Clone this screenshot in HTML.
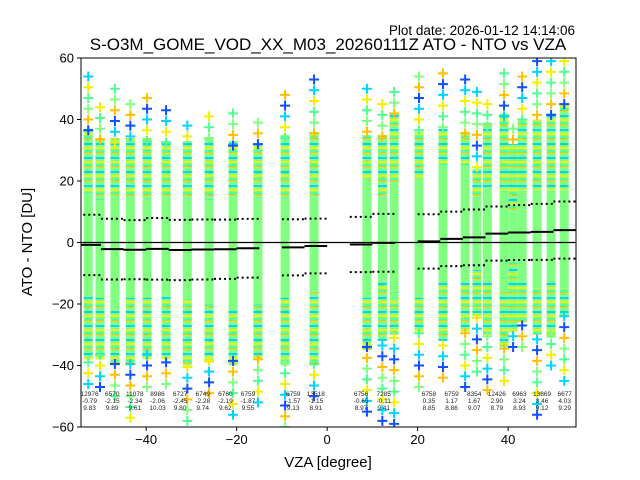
<!DOCTYPE html>
<html><head><meta charset="utf-8">
<style>
body{margin:0;background:#fff;}
svg{display:block;font-family:"Liberation Sans","DejaVu Sans",sans-serif;}
</style></head>
<body>
<svg id="chart" width="640" height="480" viewBox="0 0 640 480" xmlns="http://www.w3.org/2000/svg">
<defs>
<pattern id="mix" patternUnits="userSpaceOnUse" width="20" height="14">
<rect x="0" y="0" width="20" height="14" fill="#80ff80"/>
<rect x="0" y="3" width="20" height="2" fill="#00d4ff"/>
<rect x="0" y="7" width="20" height="2" fill="#f0f000"/>
<rect x="0" y="10" width="20" height="2" fill="#50ffa0"/>
<rect x="0" y="12" width="20" height="1" fill="#ffc000"/>
</pattern>
<clipPath id="plotclip"><rect x="81" y="58" width="495" height="369"/></clipPath>
</defs>
<rect x="0" y="0" width="640" height="480" fill="#fff"/>
<text x="575" y="35" font-size="13.5" text-anchor="end">Plot date: 2026-01-12 14:14:06</text>
<text x="328" y="50" font-size="17" text-anchor="middle">S-O3M_GOME_VOD_XX_M03_20260111Z ATO - NTO vs VZA</text>
<g id="plot" clip-path="url(#plotclip)"></g>
<g id="axes"></g>
<text x="328" y="467" font-size="15" text-anchor="middle">VZA [degree]</text>
<text x="32" y="242" font-size="15" text-anchor="middle" transform="rotate(-90 32 242)">ATO - NTO [DU]</text>
</svg>
<script>
// column data (degrees / DU)
const colX    = [-52.8,-50.2,-46.9,-43.5,-39.8,-35.6,-30.9,-26.1,-20.8,-15.3,-9.3,-2.9, 8.8,12.2,14.8,20.3,25.6,30.5,33.1,35.4,39.1,41.1,43.1,46.4,49.5,52.4];
const colTop  = [54,44,50,45,47,43,38,41,42,39,48,53, 50,45,49,54,55,53,49,45,55,37,54,59,59,59];
const colDTop = [37,34,34,34,34,33,33,34,33,32,35,36, 35,35,42,36,37,36,24,39,42,32,40,40,42,45];
const colGTop = [16,14,15,15,15,15,15,14,15,15,15,15, 21,15,19,21,25,25,15,18,17,10,17,17,17,17];
const colGBot = [-17,-18,-22,-18,-18,-17,-19,-20,-21,-20,-18,-16, -18,-12,-19,-18,-13,-12,-9,-12,-16,-6,-13,-15,-12,-15];
const colDBot = [-38,-38,-40,-40,-38,-38,-40,-39,-40,-38,-40,-40, -35,-32,-30,-29,-32,-29,-24,-30,-34,-29,-26,-30,-31,-24];
const colBot  = [-46,-47,-50,-57,-47,-46,-58,-49,-56,-52,-60,-50, -55,-58,-59,-47,-44,-47,-42,-48,-45,-34,-34,-56,-40,-45];
// bin statistics
const binLo   = [-55,-50,-45,-40,-35,-30,-25,-20,-10,-5, 5,10,20,25,30,35,40,45,50];
const binHi   = [-50,-45,-40,-35,-30,-25,-20,-15,-5,0, 10,15,25,30,35,40,45,50,55];
const binN    = [12976,6570,11078,8986,6727,6749,6760,6759,6759,13518, 6756,7285,6758,6759,8354,12426,6963,13869,6677];
const binMean = [-0.79,-2.15,-2.34,-2.06,-2.45,-2.28,-2.19,-1.87,-1.57,-1.15, -0.65,-0.11,0.35,1.17,1.67,2.90,3.24,3.46,4.03];
const binStd  = [9.83,9.89,9.61,10.03,9.80,9.74,9.62,9.55,9.13,8.91, 8.97,9.41,8.85,8.86,9.07,8.79,8.93,9.12,9.29];
const xTicks = [-40,-20,0,20,40];
const yTicks = [-60,-40,-20,0,20,40,60];

const NS="http://www.w3.org/2000/svg";
const X0=81,X1=576,Y0=427,Y1=58;
const xMin=-54.4,xMax=55,yMin=-60,yMax=60;
const xs=v=>X0+(v-xMin)/(xMax-xMin)*(X1-X0);
const ys=v=>Y0-(v-yMin)/(yMax-yMin)*(Y0-Y1);
function mk(tag,attrs,parent){const e=document.createElementNS(NS,tag);for(const k in attrs)e.setAttribute(k,attrs[k]);parent.appendChild(e);return e;}
const plot=document.getElementById('plot');
const axes=document.getElementById('axes');
const mcol=['#00d4ff','#f0f000','#50ff90','#80ff80','#ffc000','#1050ff'];
const W=9;
function plus(cx,cy,c){
  const p=mk('path',{d:`M${cx-5},${cy}H${cx+5}M${cx},${cy-5}V${cy+5}`,stroke:c,'stroke-width':2,fill:'none'},plot);
  
  
}
colX.forEach((v,i)=>{
  const cx=xs(v);
  const a=mk('rect',{x:cx-W/2,y:ys(colDTop[i]),width:W,height:ys(colGTop[i])-ys(colDTop[i]),fill:'url(#mix)'},plot);
  
  
  const g=mk('rect',{x:cx-W/2,y:ys(colGTop[i]),width:W,height:ys(colGBot[i])-ys(colGTop[i]),fill:'#80ff80'},plot);
  
  
  const b=mk('rect',{x:cx-W/2,y:ys(colGBot[i]),width:W,height:ys(colDBot[i])-ys(colGBot[i]),fill:'url(#mix)'},plot);
  
  
  let k=i;
  for(let y=colTop[i];y>colDTop[i]-2;y-=3.5){plus(cx,ys(y),mcol[k%6]);k++;}
  for(let y=colBot[i];y<colDBot[i]+2;y+=3.5){plus(cx,ys(y),mcol[k%6]);k++;}
});
// zero line
const z=mk('line',{x1:X0,x2:X1,y1:ys(0),y2:ys(0),stroke:'#000','stroke-width':1.2},plot);


binLo.forEach((lo,i)=>{
  const x1=xs(lo),x2=xs(binHi[i]);
  const m=mk('line',{x1:x1,x2:x2,y1:ys(binMean[i]),y2:ys(binMean[i]),stroke:'#000','stroke-width':2},plot);
  
  
  [binMean[i]+binStd[i],binMean[i]-binStd[i]].forEach(v=>{
    const d=mk('line',{x1:x1,x2:x2,y1:ys(v),y2:ys(v),stroke:'#000','stroke-width':2,'stroke-dasharray':'2,3'},plot);
    
    
  });
  const cx=(x1+x2)/2;
  [binN[i],binMean[i].toFixed(2),binStd[i].toFixed(2)].forEach((s,j)=>{
    const t=mk('text',{x:cx,y:396+j*7,'font-size':6.5,'text-anchor':'middle',fill:'#222'},plot);
    t.textContent=s;
    
    
  });
});
// frame
const fr=mk('rect',{x:X0,y:Y1,width:X1-X0,height:Y0-Y1,fill:'none',stroke:'#000','stroke-width':1},axes);


xTicks.forEach(v=>{
  const tk=mk('line',{x1:xs(v),x2:xs(v),y1:Y0,y2:Y0+4,stroke:'#000'},axes);
  
  
  const t=mk('text',{x:xs(v),y:Y0+17,'font-size':13,'text-anchor':'middle'},axes);
  t.textContent=(v<0?'\u2212'+(-v):v);
  
  
});
yTicks.forEach(v=>{
  const tk=mk('line',{x1:X0-4,x2:X0,y1:ys(v),y2:ys(v),stroke:'#000'},axes);
  
  
  const t=mk('text',{x:X0-7,y:ys(v)+4.5,'font-size':13,'text-anchor':'end'},axes);
  t.textContent=(v<0?'\u2212'+(-v):v);
  
  
});
</script>
</body></html>
